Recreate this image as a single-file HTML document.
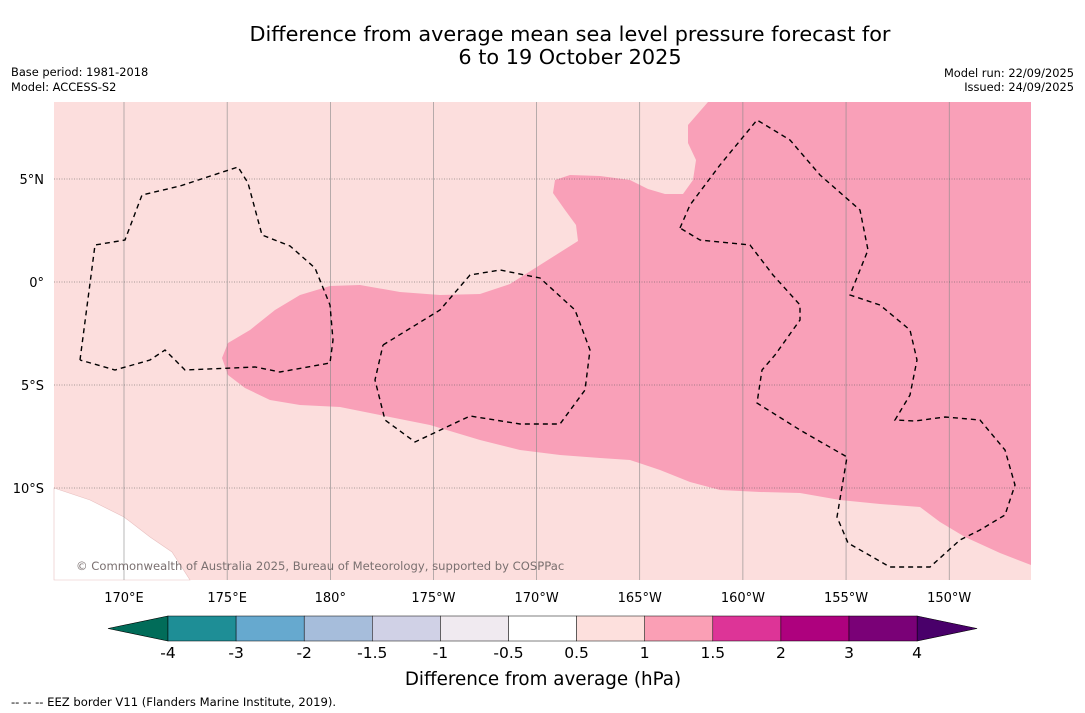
<!DOCTYPE html>
<html><head><meta charset="utf-8"><style>
html,body{margin:0;padding:0;background:#fff;width:1085px;height:713px;overflow:hidden;font-family:"DejaVu Sans","Liberation Sans",sans-serif}
</style></head><body>
<svg id="chart" width="1085" height="713" xmlns="http://www.w3.org/2000/svg" font-family="DejaVu Sans, Liberation Sans, sans-serif">
<text x="570" y="41" font-size="20.8" text-anchor="middle">Difference from average mean sea level pressure forecast for</text>
<text x="570" y="64" font-size="20.8" text-anchor="middle">6 to 19 October 2025</text>
<text x="11" y="76" font-size="11.4">Base period: 1981-2018</text>
<text x="11" y="91" font-size="11.4">Model: ACCESS-S2</text>
<text x="1074" y="77" font-size="11.4" text-anchor="end">Model run: 22/09/2025</text>
<text x="1074" y="91" font-size="11.4" text-anchor="end">Issued: 24/09/2025</text>
<g id="map">
<rect x="54" y="102" width="977" height="478" fill="#fcdedd"/>
<polygon fill="#fff" stroke="#e8c0c0" stroke-width="0.6" points="54,488 90,500 124,517 150,537 172,552 190,580 54,580"/>
<polygon fill="#f9a0b8" points="708,102 1031,102 1031,565 1000,553 965,537 940,522 920,507 880,504 840,500 800,493 760,492 720,490 690,482 660,470 630,460 600,458 560,455 520,450 480,440 430,425 380,415 340,407 300,405 270,400 245,388 228,375 222,358 228,343 250,330 275,310 300,295 330,286 360,285 400,292 440,295 480,294 510,284 540,265 578,241 576,225 565,210 553,193 555,180 570,175 600,176 630,180 648,189 665,194 683,194 693,180 696,160 688,143 688,125"/>
<g id="grid"></g>
<g fill="none" stroke="#000" stroke-width="1.4" stroke-dasharray="5,4">
<polyline points="80,360 95,245 125,240 142,195 180,186 238,167 248,183 262,235 290,246 315,268 330,305 333,340 330,363 280,372 255,367 185,370 165,350 150,360 115,370 80,360"/>
<polyline points="383,345 440,310 470,275 500,270 540,278 575,310 590,350 585,390 560,424 520,424 470,416 415,442 385,420 375,380 383,345"/>
<polyline points="680,228 690,205 720,165 757,120 790,140 820,175 860,210 868,250 850,295 880,305 910,330 917,360 910,395 895,420 915,421 945,417 980,420 1005,450 1015,485 1005,515 980,530 960,540 930,567 890,567 848,543 837,517 847,457 800,430 757,403 762,370 775,355 800,320 800,305 773,275 750,245 700,240 680,228"/>
</g>
<text x="76" y="570" font-size="11.6" fill="#7a7070">© Commonwealth of Australia 2025, Bureau of Meteorology, supported by COSPPac</text>
</g>
<g id="axes"></g>
<g id="cbar"></g>
<text x="543" y="685" font-size="18.3" text-anchor="middle">Difference from average (hPa)</text>
<text x="11" y="706" font-size="11.6">--  --  -- EEZ border V11 (Flanders Marine Institute, 2019).</text>
</svg>
<script>
const lonTicks=[170,175,180,185,190,195,200,205,210];
const lonLabels=["170°E","175°E","180°","175°W","170°W","165°W","160°W","155°W","150°W"];
const latTicks=[5,0,-5,-10];
const latLabels=["5°N","0°","5°S","10°S"];
const cbarLevels=["-4","-3","-2","-1.5","-1","-0.5","0.5","1","1.5","2","3","4"];
const cbarColors=["#1e8e96","#66a9cf","#a6bddb","#d0d1e6","#f0eaf0","#ffffff","#fde0dd","#fa9fb5","#dd3497","#ae017e","#7a0177"];
const NS="http://www.w3.org/2000/svg";
const xS=l=>124+(l-170)*20.63;
const yS=l=>282-l*20.6;
function mk(t,a,p){const e=document.createElementNS(NS,t);for(const k in a)e.setAttribute(k,a[k]);p.appendChild(e);return e;}
const grid=document.getElementById('grid'),axes=document.getElementById('axes'),cb=document.getElementById('cbar');
lonTicks.forEach((l,i)=>{
 const ln=mk('line',{x1:xS(l),x2:xS(l),y1:102,y2:580,stroke:'#888','stroke-width':0.6},grid);
 
 
 const t=mk('text',{x:xS(l),y:602,'font-size':13,'text-anchor':'middle'},axes);t.textContent=lonLabels[i];
 
 
});
latTicks.forEach((l,i)=>{
 const ln=mk('line',{x1:54,x2:1031,y1:yS(l),y2:yS(l),stroke:'#555','stroke-width':0.6,'stroke-dasharray':'1,1.5'},grid);
 
 
 const t=mk('text',{x:44,y:yS(l)+5,'font-size':13,'text-anchor':'end'},axes);t.textContent=latLabels[i];
 
 
});
const x0=168,w=68.1,y0=616,h=25;
const lt=mk('polygon',{points:`108,${y0+h/2} ${x0},${y0} ${x0},${y0+h}`,fill:'#016c59',stroke:'#000','stroke-width':0.6},cb);


const xe=x0+w*cbarColors.length;
const rt=mk('polygon',{points:`${xe},${y0} ${xe+60},${y0+h/2} ${xe},${y0+h}`,fill:'#49006a',stroke:'#000','stroke-width':0.6},cb);


cbarColors.forEach((c,i)=>{
 const r=mk('rect',{x:x0+i*w,y:y0,width:w,height:h,fill:c,stroke:'#000','stroke-width':0.5},cb);
 
 
});
cbarLevels.forEach((v,i)=>{
 const t=mk('text',{x:x0+i*w,y:658,'font-size':15.5,'text-anchor':'middle'},cb);t.textContent=v;
 
 
});
</script>
</body></html>
